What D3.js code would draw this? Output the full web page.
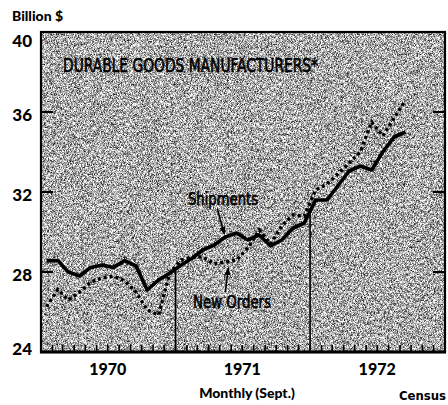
<!DOCTYPE html>
<html>
<head>
<meta charset="utf-8">
<script src="https://cdn.jsdelivr.net/npm/d3@7"></script>
<style>
  body { margin: 0; background: #fff; }
  svg { display: block; }
</style>
</head>
<body>
<script>
// Monthly values, billion dollars, Jan 1970 - Sept 1972
const months = [
  "1970-01","1970-02","1970-03","1970-04","1970-05","1970-06",
  "1970-07","1970-08","1970-09","1970-10","1970-11","1970-12",
  "1971-01","1971-02","1971-03","1971-04","1971-05","1971-06",
  "1971-07","1971-08","1971-09","1971-10","1971-11","1971-12",
  "1972-01","1972-02","1972-03","1972-04","1972-05","1972-06",
  "1972-07","1972-08","1972-09"
];
const shipments = [
  28.57, 28.57, 28.0, 27.8, 28.23, 28.35, 28.23, 28.57, 28.3, 27.1, 27.6, 27.93,
  28.35, 28.7, 29.1, 29.35, 29.75, 29.95, 29.6, 29.85, 29.3, 29.6, 30.2, 30.45,
  31.6, 31.6, 32.3, 33.05, 33.3, 33.1, 34.0, 34.75, 35.0
];
const newOrders = [
  26.27, 27.13, 26.6, 27.0, 27.5, 27.7, 27.8, 27.55, 27.0, 26.1, 25.85, 27.95,
  28.6, 28.75, 28.75, 28.4, 28.5, 28.6, 29.2, 30.1, 29.4, 30.3, 30.85, 30.8,
  32.1, 32.4, 32.9, 33.45, 34.0, 35.5, 34.8, 35.7, 36.6
];
const yTicks = [24, 28, 32, 36, 40];
const yearLabels = ["1970", "1971", "1972"];

const W = 448, H = 405;
const plot = { left: 41, right: 445, top: 32, bottom: 352 };

const parseMonth = d3.timeParse("%Y-%m");
const monthDates = months.map(parseMonth);
const midMonth = d => d3.timeDay.offset(d, 15);

const x = d3.scaleTime()
  .domain([new Date(1970, 0, 1), new Date(1973, 0, 1)])
  .range([plot.left, plot.right]);
const y = d3.scaleLinear()
  .domain([24, 40])
  .range([plot.bottom, plot.top]);

const svg = d3.select("body").append("svg")
  .attr("width", W).attr("height", H)
  .attr("viewBox", `0 0 ${W} ${H}`);

// Fine halftone grain for the plot background
const defs = svg.append("defs");
const grain = defs.append("filter")
  .attr("id", "grain")
  .attr("x", 0).attr("y", 0).attr("width", 1).attr("height", 1)
  .attr("filterUnits", "objectBoundingBox")
  .attr("color-interpolation-filters", "sRGB");
grain.append("feTurbulence")
  .attr("type", "fractalNoise")
  .attr("baseFrequency", 1.7)
  .attr("numOctaves", 1)
  .attr("seed", 11)
  .attr("result", "noise");
grain.append("feColorMatrix")
  .attr("in", "noise")
  .attr("type", "matrix")
  .attr("values", "2.1 0 0 0 -0.38  2.1 0 0 0 -0.38  2.1 0 0 0 -0.38  0 0 0 0 1");

defs.append("marker")
  .attr("id", "arrow")
  .attr("viewBox", "0 0 10 10")
  .attr("refX", 9).attr("refY", 5)
  .attr("markerWidth", 5).attr("markerHeight", 5)
  .attr("markerUnits", "strokeWidth")
  .attr("orient", "auto")
  .append("path")
  .attr("d", "M0,1 L10,5 L0,9 Z")
  .attr("fill", "#000");

svg.append("rect")
  .attr("x", plot.left).attr("y", plot.top)
  .attr("width", plot.right - plot.left)
  .attr("height", plot.bottom - plot.top)
  .attr("fill", "#aaa")
  .attr("filter", "url(#grain)");

// Frame
svg.append("rect")
  .attr("x", plot.left).attr("y", plot.top)
  .attr("width", plot.right - plot.left)
  .attr("height", plot.bottom - plot.top)
  .attr("fill", "none")
  .attr("stroke", "#000")
  .attr("stroke-width", 2.2);
svg.append("line")
  .attr("x1", plot.left - 1).attr("x2", plot.right + 1)
  .attr("y1", plot.bottom).attr("y2", plot.bottom)
  .attr("stroke", "#000").attr("stroke-width", 3);

// Inward value ticks on both sides
const inner = yTicks.filter(v => v > 24 && v < 40);
svg.append("g").selectAll("line").data(inner).join("line")
  .attr("x1", plot.left).attr("x2", plot.left + 12)
  .attr("y1", d => y(d)).attr("y2", d => y(d))
  .attr("stroke", "#000").attr("stroke-width", 2);
svg.append("g").selectAll("line").data(inner).join("line")
  .attr("x1", plot.right - 12).attr("x2", plot.right)
  .attr("y1", d => y(d)).attr("y2", d => y(d))
  .attr("stroke", "#000").attr("stroke-width", 2);

// Value labels
svg.append("g").selectAll("text").data(yTicks).join("text")
  .attr("x", 32)
  .attr("y", d => Math.max(41, Math.min(349, y(d) + 3)))
  .attr("dy", "0.36em")
  .attr("text-anchor", "end")
  .attr("font-family", "Lato, 'DejaVu Sans', sans-serif")
  .attr("font-weight", 900)
  .attr("font-size", 17)
  .text(d => d);

svg.append("text")
  .attr("x", 12).attr("y", 21)
  .attr("font-family", "Lato, 'DejaVu Sans', sans-serif")
  .attr("font-weight", 900)
  .attr("font-size", 14)
  .text("Billion $");

// Monthly ticks along the base
const tickMonths = d3.timeMonth.range(new Date(1970, 1, 1), new Date(1973, 0, 1));
svg.append("g").selectAll("line").data(tickMonths).join("line")
  .attr("x1", d => x(d)).attr("x2", d => x(d))
  .attr("y1", plot.bottom).attr("y2", plot.bottom - 7)
  .attr("stroke", "#000").attr("stroke-width", 1.6);

// Year dividers rise from the base up to the shipments line
const pts = monthDates.map((d, i) => ({ x: x(midMonth(d)), s: shipments[i], n: newOrders[i] }));
function shipAt(px) {
  for (let i = 1; i < pts.length; i++) {
    if (px <= pts[i].x) {
      const t = (px - pts[i - 1].x) / (pts[i].x - pts[i - 1].x);
      return pts[i - 1].s + t * (pts[i].s - pts[i - 1].s);
    }
  }
  return pts[pts.length - 1].s;
}
const dividers = [new Date(1971, 0, 1), new Date(1972, 0, 1)];
svg.append("g").selectAll("line").data(dividers).join("line")
  .attr("x1", d => x(d)).attr("x2", d => x(d))
  .attr("y1", plot.bottom).attr("y2", d => y(shipAt(x(d))))
  .attr("stroke", "#000").attr("stroke-width", 1.6);

// Series
const line = key => d3.line()
  .x(p => p.x)
  .y(p => y(p[key]))
  .curve(d3.curveLinear)(pts);

svg.append("path")
  .attr("d", line("n"))
  .attr("fill", "none")
  .attr("stroke", "#000")
  .attr("stroke-width", 3.4)
  .attr("stroke-dasharray", "3 3");

svg.append("path")
  .attr("d", line("s"))
  .attr("fill", "none")
  .attr("stroke", "#000")
  .attr("stroke-width", 3.6)
  .attr("stroke-linejoin", "round");

// Titles and annotations
const narrow = "'Liberation Sans Narrow', 'DejaVu Sans Condensed', 'Roboto Condensed', sans-serif";
const annot = (sel) => sel
  .attr("font-family", narrow)
  .attr("stroke", "#000")
  .attr("stroke-width", 0.6)
  .attr("lengthAdjust", "spacingAndGlyphs");

svg.append("text")
  .attr("x", 63).attr("y", 72)
  .attr("font-size", 19)
  .attr("textLength", 255)
  .call(annot)
  .text("DURABLE GOODS MANUFACTURERS*");

svg.append("text")
  .attr("x", 188).attr("y", 205)
  .attr("font-size", 17)
  .attr("textLength", 70)
  .call(annot)
  .text("Shipments");

svg.append("text")
  .attr("x", 193).attr("y", 308)
  .attr("font-size", 17)
  .attr("textLength", 78)
  .call(annot)
  .text("New Orders");

// Pointers from labels to lines (May 1971)
const mayIdx = months.indexOf("1971-05");
const pm = pts[mayIdx];
svg.append("line")
  .attr("x1", pm.x - 8).attr("y1", 209)
  .attr("x2", pm.x - 1).attr("y2", y(pm.s) - 3)
  .attr("stroke", "#000").attr("stroke-width", 1.6)
  .attr("marker-end", "url(#arrow)");
svg.append("line")
  .attr("x1", pm.x).attr("y1", 292)
  .attr("x2", pm.x + 3).attr("y2", y(pm.n) + 6)
  .attr("stroke", "#000").attr("stroke-width", 1.6)
  .attr("marker-end", "url(#arrow)");

// Year labels centred under each year
svg.append("g").selectAll("text").data(yearLabels).join("text")
  .attr("x", d => x(new Date(+d, 6, 1)))
  .attr("y", 375)
  .attr("text-anchor", "middle")
  .attr("font-family", "Lato, 'DejaVu Sans', sans-serif")
  .attr("font-weight", 900)
  .attr("font-size", 16)
  .text(d => d);

svg.append("text")
  .attr("x", 247).attr("y", 398)
  .attr("text-anchor", "middle")
  .attr("font-family", "Lato, 'DejaVu Sans', sans-serif")
  .attr("font-weight", 900)
  .attr("font-size", 14)
  .text("Monthly (Sept.)");

svg.append("text")
  .attr("x", 446).attr("y", 400)
  .attr("text-anchor", "end")
  .attr("font-family", narrow)
  .attr("font-weight", "bold")
  .attr("font-size", 13)
  .text("Census");
</script>
</body>
</html>
